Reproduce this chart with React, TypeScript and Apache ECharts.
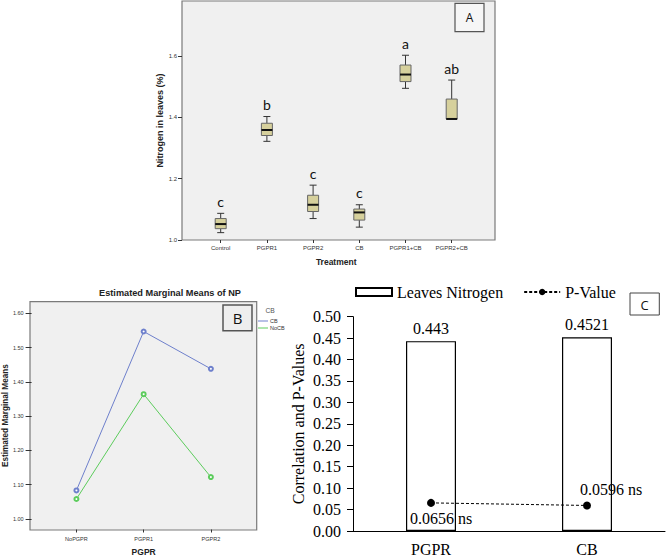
import React, { useEffect, useRef } from 'react';
import * as echarts from 'echarts';

// Panel A: box plots of leaf nitrogen by treatment
const treatments = ['Control', 'PGPR1', 'PGPR2', 'CB', 'PGPR1+CB', 'PGPR2+CB'];
const boxMin = [1.024, 1.322, 1.07, 1.042, 1.495, 1.395];
const boxQ1 = [1.037, 1.341, 1.093, 1.065, 1.517, 1.395];
const boxMedian = [1.052, 1.359, 1.115, 1.09, 1.54, 1.395];
const boxQ3 = [1.07, 1.381, 1.146, 1.101, 1.571, 1.46];
const boxMax = [1.087, 1.403, 1.179, 1.115, 1.603, 1.522];
const groupLetters = ['c', 'b', 'c', 'c', 'a', 'ab'];
const nitrogenTicks = [1.0, 1.2, 1.4, 1.6];

// Panel B: estimated marginal means
const pgprLevels = ['NoPGPR', 'PGPR1', 'PGPR2'];
const meansCB = [1.083, 1.547, 1.438];
const meansNoCB = [1.058, 1.364, 1.122];
const marginalTicks = [1.0, 1.1, 1.2, 1.3, 1.4, 1.5, 1.6];

// Panel C: correlation and p-values
const factors = ['PGPR', 'CB'];
const leavesNitrogen = [0.443, 0.4521];
const pValues = [0.0656, 0.0596];

const SANS = 'Liberation Sans, Arial, sans-serif';
const SERIF = 'Liberation Serif, Times New Roman, serif';

export default function App() {
  const ref = useRef<HTMLDivElement>(null);

  useEffect(() => {
    if (!ref.current) return;
    const chart = echarts.init(ref.current, undefined, { renderer: 'svg' });

    const boxData = treatments.map((_, i) => [i, boxMin[i], boxQ1[i], boxMedian[i], boxQ3[i], boxMax[i]]);

    const option: any = {
      animation: false,
      backgroundColor: '#ffffff',
      title: [
        {
          text: 'Estimated Marginal Means of NP',
          left: 170,
          top: 288,
          padding: 0,
          textAlign: 'center',
          textStyle: { fontFamily: SANS, fontSize: 9.2, fontWeight: 'bold', color: '#222' },
        },
      ],
      legend: [
        {
          data: [{ name: 'CB', icon: 'rect' }, { name: 'NoCB', icon: 'rect' }],
          orient: 'vertical',
          left: 258,
          top: 318,
          padding: 0,
          itemWidth: 10,
          itemHeight: 1,
          itemGap: 1,
          selectedMode: false,
          textStyle: { fontFamily: SANS, fontSize: 5.5, color: '#333', padding: [0, 0, 0, -3] },
        },
        {
          data: [{ name: 'Leaves Nitrogen', icon: 'rect' }, { name: 'P-Value' }],
          left: 355,
          top: 284,
          padding: 0,
          itemWidth: 36,
          itemHeight: 8,
          itemGap: 20,
          selectedMode: false,
          textStyle: { fontFamily: SERIF, fontSize: 16, color: '#000' },
        },
      ],
      grid: [
        { left: 197.6, top: 1, width: 277.2, height: 239 },
        { left: 41.2, top: 301.7, width: 203.3, height: 228.3 },
        { left: 353, top: 316.7, width: 312, height: 215 },
      ],
      xAxis: [
        {
          gridIndex: 0,
          type: 'category',
          data: treatments,
          boundaryGap: true,
          name: 'Treatment',
          nameLocation: 'middle',
          nameGap: 17.5,
          nameTextStyle: { fontFamily: SANS, fontSize: 8.5, fontWeight: 'bold', color: '#222' },
          axisLine: { show: false },
          axisTick: { show: true, alignWithLabel: true, length: 3, lineStyle: { color: '#333' } },
          axisLabel: { fontFamily: SANS, fontSize: 6, color: '#333', margin: 5, interval: 0 },
        },
        {
          gridIndex: 1,
          type: 'category',
          data: pgprLevels,
          boundaryGap: true,
          name: 'PGPR',
          nameLocation: 'middle',
          nameGap: 17.5,
          nameTextStyle: { fontFamily: SANS, fontSize: 8.5, fontWeight: 'bold', color: '#222' },
          axisLine: { show: false },
          axisTick: { show: true, alignWithLabel: true, length: 3, lineStyle: { color: '#333' } },
          axisLabel: { fontFamily: SANS, fontSize: 5.5, color: '#333', margin: 6, interval: 0 },
        },
        {
          gridIndex: 2,
          type: 'category',
          data: factors,
          boundaryGap: true,
          axisLine: { show: true, lineStyle: { color: '#000', width: 1 } },
          axisTick: { show: false },
          axisLabel: { fontFamily: SERIF, fontSize: 16, color: '#000', margin: 10 },
        },
      ],
      yAxis: [
        {
          gridIndex: 0,
          type: 'value',
          min: 1.0,
          max: 1.78,
          offset: 15.6,
          name: 'Nitrogen in leaves (%)',
          nameLocation: 'middle',
          nameGap: 14.5,
          nameTextStyle: { fontFamily: SANS, fontSize: 9, fontWeight: 'bold', color: '#222' },
          axisLine: { show: false },
          splitLine: { show: false },
          axisTick: { show: true, length: 4, customValues: nitrogenTicks, lineStyle: { color: '#333' } },
          axisLabel: {
            fontFamily: SANS,
            fontSize: 6,
            color: '#333',
            margin: 5,
            customValues: nitrogenTicks,
            formatter: (v: number) => v.toFixed(1),
          },
        },
        {
          gridIndex: 1,
          type: 'value',
          min: 0.969,
          max: 1.634,
          offset: 11.2,
          name: 'Estimated Marginal Means',
          nameLocation: 'middle',
          nameGap: 21,
          nameTextStyle: { fontFamily: SANS, fontSize: 8.2, fontWeight: 'bold', color: '#222' },
          axisLine: { show: false },
          splitLine: { show: false },
          axisTick: { show: true, length: 6, customValues: marginalTicks, lineStyle: { color: '#333' } },
          axisLabel: {
            fontFamily: SANS,
            fontSize: 5.5,
            color: '#333',
            margin: 8,
            customValues: marginalTicks,
            formatter: (v: number) => v.toFixed(2),
          },
        },
        {
          gridIndex: 2,
          type: 'value',
          min: 0,
          max: 0.5,
          interval: 0.05,
          name: 'Correlation and P-Values',
          nameLocation: 'middle',
          nameGap: 47,
          nameTextStyle: { fontFamily: SERIF, fontSize: 16, color: '#000' },
          axisLine: { show: true, lineStyle: { color: '#000', width: 1 } },
          splitLine: { show: false },
          axisTick: { show: true, length: 6, lineStyle: { color: '#000' } },
          axisLabel: {
            fontFamily: SERIF,
            fontSize: 16,
            color: '#000',
            margin: 12,
            formatter: (v: number) => v.toFixed(2),
          },
        },
      ],
      series: [
        {
          type: 'custom',
          name: 'Nitrogen boxes',
          xAxisIndex: 0,
          yAxisIndex: 0,
          data: boxData,
          encode: { x: 0, y: [1, 2, 3, 4, 5] },
          z: 5,
          renderItem: (params: any, api: any) => {
            const idx = api.value(0);
            const lo = api.coord([idx, api.value(1)]);
            const cx = lo[0];
            const yLo = lo[1];
            const yQ1 = api.coord([idx, api.value(2)])[1];
            const yMed = api.coord([idx, api.value(3)])[1];
            const yQ3 = api.coord([idx, api.value(4)])[1];
            const yHi = api.coord([idx, api.value(5)])[1];
            const bw = 11;
            const cap = 7;
            const stroke = { stroke: '#333', lineWidth: 1 };
            const children: any[] = [];
            if (yHi < yQ3 - 0.5) {
              children.push({ type: 'line', shape: { x1: cx, y1: yHi, x2: cx, y2: yQ3 }, style: stroke });
              children.push({ type: 'line', shape: { x1: cx - cap / 2, y1: yHi, x2: cx + cap / 2, y2: yHi }, style: stroke });
            }
            if (yLo > yQ1 + 0.5) {
              children.push({ type: 'line', shape: { x1: cx, y1: yQ1, x2: cx, y2: yLo }, style: stroke });
              children.push({ type: 'line', shape: { x1: cx - cap / 2, y1: yLo, x2: cx + cap / 2, y2: yLo }, style: stroke });
            }
            children.push({
              type: 'rect',
              shape: { x: cx - bw / 2, y: yQ3, width: bw, height: yQ1 - yQ3 },
              style: { fill: '#d6d09c', stroke: '#666', lineWidth: 1 },
            });
            children.push({
              type: 'line',
              shape: { x1: cx - bw / 2, y1: yMed, x2: cx + bw / 2, y2: yMed },
              style: { stroke: '#111', lineWidth: 2 },
            });
            children.push({
              type: 'text',
              style: {
                text: groupLetters[params.dataIndex],
                x: cx,
                y: yHi - 5,
                align: 'center',
                verticalAlign: 'bottom',
                fontFamily: 'Lato, sans-serif',
                fontSize: 14,
                fill: '#111',
              },
            });
            return { type: 'group', children };
          },
        },
        {
          type: 'line',
          name: 'CB',
          xAxisIndex: 1,
          yAxisIndex: 1,
          data: meansCB,
          symbol: 'emptyCircle',
          symbolSize: 4,
          lineStyle: { color: '#6e80cc', width: 1 },
          itemStyle: { color: '#6e80cc', borderWidth: 0.8 },
        },
        {
          type: 'line',
          name: 'NoCB',
          xAxisIndex: 1,
          yAxisIndex: 1,
          data: meansNoCB,
          symbol: 'emptyCircle',
          symbolSize: 4,
          lineStyle: { color: '#5ccc5c', width: 1 },
          itemStyle: { color: '#5ccc5c', borderWidth: 0.8 },
        },
        {
          type: 'bar',
          name: 'Leaves Nitrogen',
          xAxisIndex: 2,
          yAxisIndex: 2,
          data: leavesNitrogen,
          barWidth: 50,
          itemStyle: { color: '#ffffff', borderColor: '#000', borderWidth: 1.2 },
          label: {
            show: true,
            position: 'top',
            distance: 5,
            fontFamily: SERIF,
            fontSize: 16,
            color: '#000',
          },
        },
        {
          type: 'line',
          name: 'P-Value',
          xAxisIndex: 2,
          yAxisIndex: 2,
          data: [
            { value: pValues[0], label: { position: 'bottom', offset: [10, 0] } },
            { value: pValues[1], label: { position: 'top', offset: [24, 0] } },
          ],
          symbol: 'circle',
          symbolSize: 8,
          lineStyle: { color: '#000', width: 1, type: [3, 2] },
          itemStyle: { color: '#000' },
          label: {
            show: true,
            distance: 4,
            fontFamily: SERIF,
            fontSize: 16,
            color: '#000',
            formatter: (p: any) => `${p.value} ns`,
          },
          z: 4,
        },
      ],
      graphic: [
        {
          type: 'rect',
          z: 0,
          shape: { x: 182, y: 1, width: 313, height: 239 },
          style: { fill: '#f0f0f0', stroke: '#7a7a7a', lineWidth: 1.2 },
        },
        {
          type: 'rect',
          z: 0,
          shape: { x: 30, y: 301.7, width: 226.7, height: 228.3 },
          style: { fill: '#f0f0f0', stroke: '#7a7a7a', lineWidth: 1.2 },
        },
        {
          type: 'rect',
          z: 100,
          shape: { x: 455, y: 3.3, width: 29, height: 28.4 },
          style: { fill: '#f6f6f6', stroke: '#555', lineWidth: 1.2 },
        },
        {
          type: 'text',
          z: 101,
          style: { text: 'A', x: 469.5, y: 17.5, align: 'center', verticalAlign: 'middle', fontFamily: 'Open Sans, sans-serif', fontSize: 12, fill: '#111' },
        },
        {
          type: 'rect',
          z: 100,
          shape: { x: 223, y: 305, width: 29, height: 25.7 },
          style: { fill: '#eeeeee', stroke: '#555', lineWidth: 1.5 },
        },
        {
          type: 'text',
          z: 101,
          style: { text: 'B', x: 237.5, y: 318, align: 'center', verticalAlign: 'middle', fontFamily: 'Open Sans, sans-serif', fontSize: 15, fill: '#111' },
        },
        {
          type: 'rect',
          z: 100,
          shape: { x: 630, y: 293, width: 29.3, height: 22 },
          style: { fill: '#ffffff', stroke: '#444', lineWidth: 1 },
        },
        {
          type: 'text',
          z: 101,
          style: { text: 'C', x: 644.6, y: 304.5, align: 'center', verticalAlign: 'middle', fontFamily: 'Open Sans, sans-serif', fontSize: 13, fill: '#111' },
        },
        {
          type: 'text',
          z: 101,
          style: { text: 'CB', x: 265.5, y: 310, align: 'left', verticalAlign: 'middle', fontFamily: SANS, fontSize: 6.7, fill: '#555' },
        },
      ],
    };

    chart.setOption(option);
    return () => {
      chart.dispose();
    };
  }, []);

  return (
    <div
      ref={ref}
      style={{ position: 'fixed', left: 0, top: 0, width: 667, height: 557, background: '#fff' }}
    />
  );
}
